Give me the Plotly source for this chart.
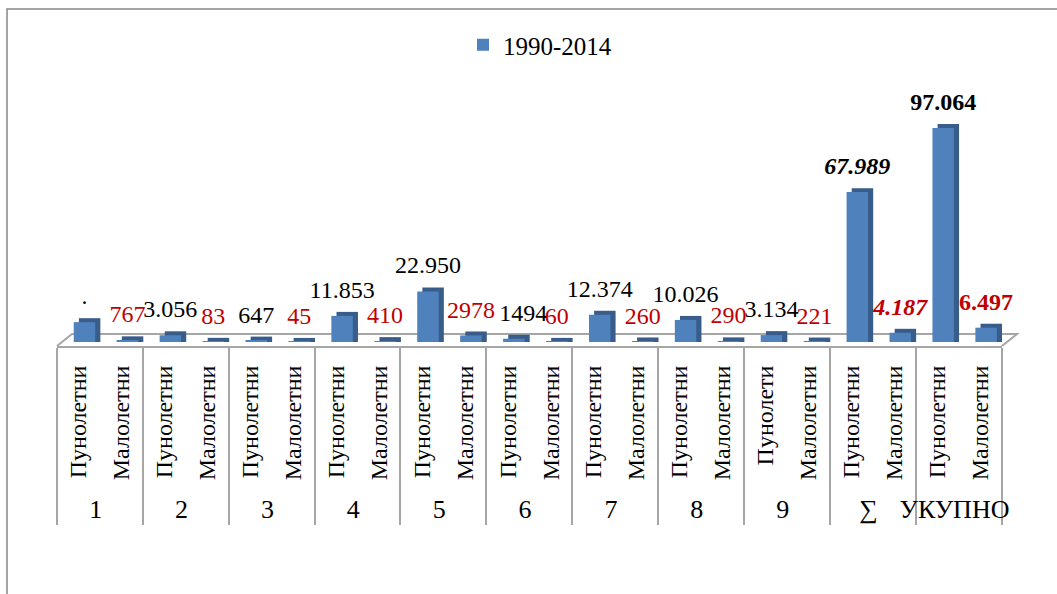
import plotly.graph_objects as go

groups = ["1", "1", "2", "2", "3", "3", "4", "4", "5", "5", "6", "6",
          "7", "7", "8", "8", "9", "9", "∑", "∑", "УКУПНО", "УКУПНО"]
subcats = ["Пунолетни", "Малолетни"] * 8 + ["Пунолети", "Малолетни"] + ["Пунолетни", "Малолетни"] * 2
values = [9000, 767, 3056, 83, 647, 45, 11853, 410, 22950, 2978, 1494, 60,
          12374, 260, 10026, 290, 3134, 221, 67989, 4187, 97064, 6497]
labels = [".", "767", "3.056", "83", "647", "45", "11.853", "410", "22.950", "2978",
          "1494", "60", "12.374", "260", "10.026", "290", "3.134", "221",
          "<b><i>67.989</i></b>", "<b><i>4.187</i></b>", "<b>97.064</b>", "<b>6.497</b>"]
label_colors = ["#000000", "#C00000"] * 11
series_name = "1990-2014"

FONT = "Liberation Serif, Times New Roman, serif"
DEPTH = 1800      # visual depth of the pseudo-3D side (data units)
TEXT_LIFT = 4500  # extra room between column top and its label
# horizontal nudge of individual data labels (category units), like the moved label in the original
label_nudge = [0.0] * len(values)
label_nudge[10] = 0.22

# order points so that adult ("Пунолетни"/"Пунолети") entries are seen first -> keeps inner order
order = [i for i in range(len(values)) if i % 2 == 0] + [i for i in range(len(values)) if i % 2 == 1]
g_o = ['<span style="font-size:26px">' + groups[i] + '</span>' for i in order]
s_o = [subcats[i] for i in order]
v_o = [values[i] for i in order]
t_o = [labels[i] for i in order]
c_o = [label_colors[i] for i in order]
n_o = [-0.11 + label_nudge[i] for i in order]

fig = go.Figure()
# dark side / depth of each column
fig.add_trace(go.Bar(
    x=[g_o, s_o], y=[v + DEPTH for v in v_o],
    width=0.5, offset=0.01,
    marker=dict(color="#385D8A", line=dict(width=0)),
    showlegend=False, hoverinfo="skip",
))
# front face
fig.add_trace(go.Bar(
    x=[g_o, s_o], y=v_o, name=series_name,
    width=0.5, offset=-0.11,
    marker=dict(color="#4F81BD", line=dict(width=0)),
))
# data labels (transparent carrier bars)
fig.add_trace(go.Bar(
    x=[g_o, s_o], y=[v + TEXT_LIFT for v in v_o],
    width=0.5, offset=n_o,
    marker=dict(color="rgba(0,0,0,0)", line=dict(width=0)),
    text=t_o, textposition="outside", constraintext="none", cliponaxis=False,
    textfont=dict(family=FONT, size=24, color=c_o),
    showlegend=False, hoverinfo="skip",
))

L, R, T, B = 57, 55, 100, 248
W = 1057 - L - R
H = 594 - T - B

def px(x):
    return (x - L) / W

def py(y):
    return (594 - B - y) / H

shapes = [
    # outer chart frame
    dict(type="rect", xref="paper", yref="paper",
         x0=px(7), x1=px(1075), y0=py(620), y1=py(9),
         line=dict(color="#868686", width=1.5), fillcolor="rgba(0,0,0,0)", layer="below"),
    # 3D floor outline
    dict(type="path", xref="paper", yref="paper",
         path=f"M {px(57)} {py(346)} L {px(72)} {py(334)} L {px(1017)} {py(334)} L {px(1002)} {py(346)}",
         line=dict(color="#A6A6A6", width=2), layer="below"),
]

fig.update_layout(
    width=1057, height=594,
    margin=dict(l=L, r=R, t=T, b=B),
    paper_bgcolor="white", plot_bgcolor="white",
    barmode="overlay",
    font=dict(family=FONT, size=24, color="#000000"),
    showlegend=True,
    legend=dict(orientation="h", x=px(540), xanchor="center", yref="container",
                y=1 - 45 / 594, yanchor="middle", font=dict(family=FONT, size=25)),
    shapes=shapes,
    xaxis=dict(type="multicategory", tickangle=-90, showline=True, linecolor="#A6A6A6",
               linewidth=2, ticks="", showdividers=True, dividercolor="#A6A6A6",
               dividerwidth=2, tickfont=dict(family=FONT, size=24, color="#000000"),
               ticklabelstandoff=8, showgrid=False),
    yaxis=dict(range=[-1814, 109772], visible=False, showgrid=False, zeroline=False),
)

fig.write_html("out.html", config={"displayModeBar": False},
               post_script="document.body.style.margin='0';")
